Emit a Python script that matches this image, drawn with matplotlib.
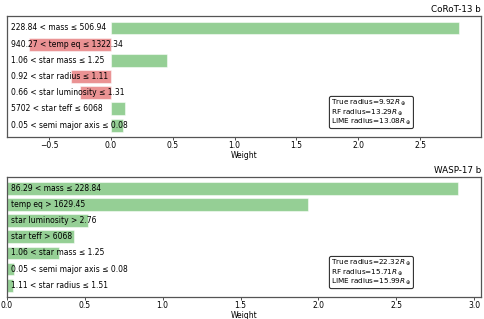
import matplotlib.pyplot as plt
import matplotlib.transforms as mtransforms

# CoRoT-13 b
top_labels = ['228.84 < mass ≤ 506.94', '940.27 < temp eq ≤ 1322.34',
              '1.06 < star mass ≤ 1.25', '0.92 < star radius ≤ 1.11',
              '0.66 < star luminosity ≤ 1.31', '5702 < star teff ≤ 6068',
              '0.05 < semi major axis ≤ 0.08']
top_weights = [2.818, -0.666, 0.45, -0.321, -0.246, 0.116, 0.099]
top_radii = [9.92, 13.29, 13.08]

# WASP-17 b
bot_labels = ['86.29 < mass ≤ 228.84', 'temp eq > 1629.45',
              'star luminosity > 2.76', 'star teff > 6068',
              '1.06 < star mass ≤ 1.25', '0.05 < semi major axis ≤ 0.08',
              '1.11 < star radius ≤ 1.51']
bot_weights = [2.90, 1.931, 0.521, 0.431, 0.331, 0.047, 0.040]
bot_radii = [22.32, 15.71, 15.99]

fig = plt.figure(figsize=(4.85, 3.19), dpi=100)
ax1 = fig.add_axes([0.0144, 0.5705, 0.9774, 0.3793])
ax2 = fig.add_axes([0.0144, 0.069, 0.9774, 0.377])


def draw(ax, labels, weights, radii, title):
    pos = list(range(len(weights)))[::-1]
    colors = ['tab:green' if w > 0 else 'tab:red' for w in weights]
    ax.barh(pos, weights, height=0.8, color=colors, alpha=0.5, edgecolor='white', linewidth=0.8)
    trans = mtransforms.blended_transform_factory(ax.transAxes, ax.transData)
    for p, lab in zip(pos, labels):
        ax.text(0.008, p, lab, transform=trans, va='center', ha='left', fontsize=5.5)
    ax.set_yticks([])
    ax.set_title(title, loc='right', fontsize=6.3, pad=3)
    ax.set_xlabel('Weight', fontsize=5.5, labelpad=0.5)
    ax.tick_params(axis='x', labelsize=5.5, length=2, width=0.6, pad=1.2, color='#333333')
    for s in ax.spines.values():
        s.set_color('#555555')
        s.set_linewidth(0.9)
    txt = ('True radius=%.2f$R_\\oplus$\nRF radius=%.2f$R_\\oplus$\nLIME radius=%.2f$R_\\oplus$'
           % tuple(radii))
    ax.text(0.684, 0.085, txt, transform=ax.transAxes, fontsize=5.2, va='bottom', ha='left',
            linespacing=0.85,
            bbox=dict(boxstyle='round,pad=0.25', facecolor='white', edgecolor='#333333', linewidth=0.8))


draw(ax1, top_labels, top_weights, top_radii, 'CoRoT-13 b')
draw(ax2, bot_labels, bot_weights, bot_radii, 'WASP-17 b')

fig.savefig('out.png', dpi=100)
